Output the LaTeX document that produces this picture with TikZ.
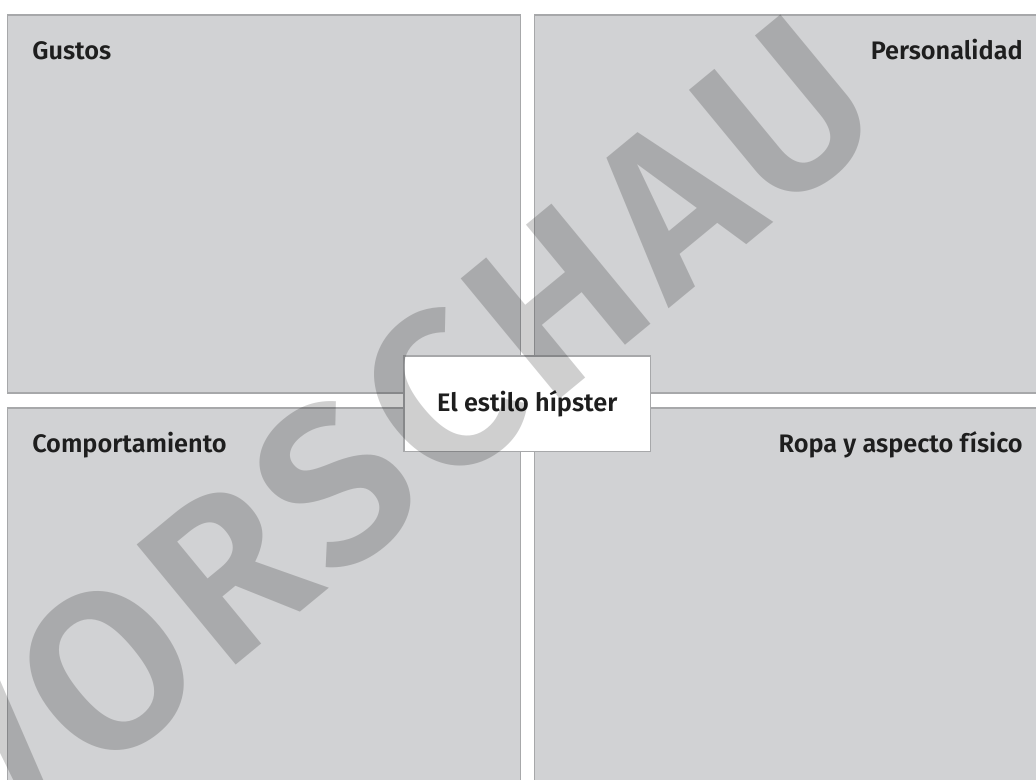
\documentclass[tikz,border=0pt]{standalone}
\usepackage{fontspec}
\setmainfont{Fira Sans}[BoldFont={Fira Sans SemiBold}]
\newfontfamily\markfont{Fira Sans}[UprightFont={* SemiBold}, LetterSpace=4]
\definecolor{panelgray}{HTML}{D1D2D4}
\definecolor{panelline}{HTML}{A7A8AA}
\definecolor{labeltext}{HTML}{1E1E1E}
\tikzset{
    panel/.style={fill=panelgray, draw=panelline, line width=1.1pt},
    etiqueta/.style={inner sep=0pt, text=labeltext, font=\fontsize{18}{20}\selectfont\bfseries},
}
\begin{document}
\begin{tikzpicture}[x=0.025cm, y=-0.025cm]
        \useasboundingbox (0,0) rectangle (1036,780);
        % cuatro campos
        \draw [panel] (7.5,15) rectangle (520.5,393);
        \draw [panel] (534.5,15) rectangle (1045,393);
        \draw [panel] (7.5,408) rectangle (520.5,790);
        \draw [panel] (534.5,408) rectangle (1045,790);
        % campo central
        \draw [fill=white, draw=panelline, line width=1.1pt] (404,356) rectangle (650.5,451.5);

        \node [etiqueta, anchor=base west] (gustos) at (32,60) {Gustos};
        \node [etiqueta, anchor=base east] (personalidad) at (1023,60) {Personalidad};
        \node [etiqueta, anchor=base west] (comportamiento) at (32,452) {Comportamiento};
        \node [etiqueta, anchor=base east] (ropa) at (1023,452) {Ropa y aspecto físico};
        \node [etiqueta] (estilo) at (527.25,404) {El estilo hípster};

        % marca de agua
        \node [rotate=39.5, text=black, text opacity=0.19, inner sep=0pt,
               font=\markfont\fontsize{160}{160}\selectfont] (marca) at (392,436) {VORSCHAU};
    \end{tikzpicture}
\end{document}
